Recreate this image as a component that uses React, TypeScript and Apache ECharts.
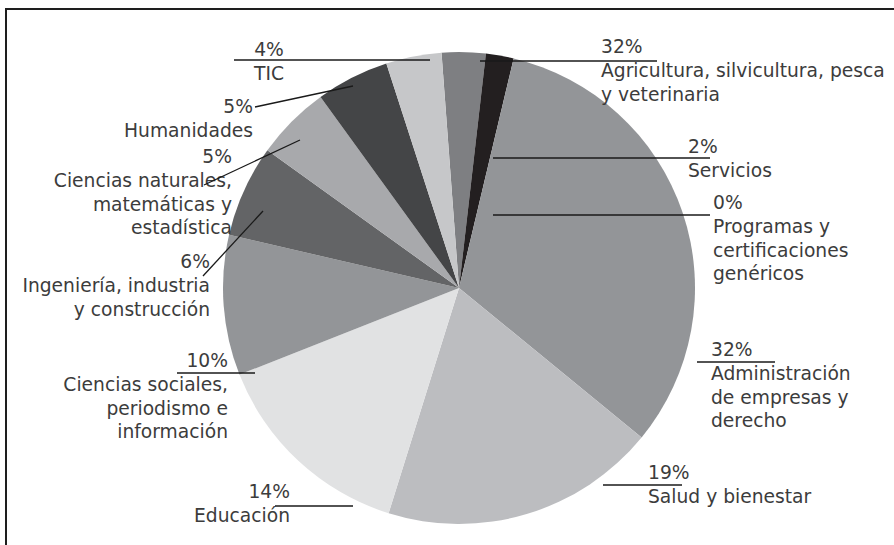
import React, { useEffect, useRef } from 'react';
import * as echarts from 'echarts';

// Slices in clockwise order, starting just left of 12 o'clock
const categories = [
  'Agricultura, silvicultura, pesca\ny veterinaria',
  'Servicios',
  'Programas y\ncertificaciones\ngenéricos',
  'Administración\nde empresas y\nderecho',
  'Salud y bienestar',
  'Educación',
  'Ciencias sociales,\nperiodismo e\ninformación',
  'Ingeniería, industria\ny construcción',
  'Ciencias naturales,\nmatemáticas y\nestadística',
  'Humanidades',
  'TIC',
];
const values = [3.0, 1.9, 0, 32.2, 18.9, 14.2, 9.6, 6.3, 5.1, 5.0, 3.8];
const percentLabels = ['32%', '2%', '0%', '32%', '19%', '14%', '10%', '6%', '5%', '5%', '4%'];

// styles
const sliceColors = [
  '#7e7f82', '#231f20', '#939598', '#939598', '#bcbdc0', '#e1e2e3',
  '#939598', '#636466', '#a8a9ac', '#444547', '#c6c7c9',
];

// label placement and leader lines (layout only)
type Place = { x: number; y: number; align: 'left' | 'right' | 'center'; a: number[]; b: number[] };
const labelPlaces: Place[] = [
  { x: 601, y: 35, align: 'left', a: [480, 61], b: [657, 61] },
  { x: 688, y: 135, align: 'left', a: [493, 158], b: [710, 158] },
  { x: 713, y: 191, align: 'left', a: [493, 215], b: [710, 215] },
  { x: 711, y: 338, align: 'left', a: [697, 362], b: [775, 362] },
  { x: 648, y: 461, align: 'left', a: [603, 485], b: [682, 485] },
  { x: 290, y: 480, align: 'right', a: [353, 506], b: [275, 506] },
  { x: 228, y: 349, align: 'right', a: [255, 373], b: [177, 373] },
  { x: 210, y: 250, align: 'right', a: [263, 211], b: [203, 276] },
  { x: 232, y: 145, align: 'right', a: [300, 140], b: [204, 185] },
  { x: 253, y: 95, align: 'right', a: [353, 86], b: [255, 107] },
  { x: 269, y: 38, align: 'center', a: [430, 60], b: [234, 60] },
];

export default function App() {
  const ref = useRef<HTMLDivElement>(null);
  useEffect(() => {
    if (!ref.current) return;
    const chart = echarts.init(ref.current, undefined, { renderer: 'svg' });
    const leaderLines = labelPlaces.map((pl) => ({
      type: 'line',
      z: 100,
      silent: true,
      shape: { x1: pl.a[0], y1: pl.a[1], x2: pl.b[0], y2: pl.b[1] },
      style: { stroke: '#1a1a1a', lineWidth: 1.3 },
    }));
    chart.setOption({
      animation: false,
      backgroundColor: '#ffffff',
      graphic: [
        {
          type: 'rect',
          z: 100,
          shape: { x: 6, y: 9, width: 920, height: 600 },
          style: { fill: 'none', stroke: '#1e1e1e', lineWidth: 2 },
          silent: true,
        },
        ...leaderLines,
      ],
      series: [
        {
          type: 'pie',
          center: [459, 288],
          radius: [0, 236],
          startAngle: 94.25,
          clockwise: true,
          avoidLabelOverlap: false,
          data: categories.map((name, i) => ({
            name,
            value: values[i],
            itemStyle: { color: sliceColors[i] },
          })),
          itemStyle: { borderWidth: 0 },
          label: {
            show: true,
            position: 'outside',
            fontFamily: 'DejaVu Sans',
            fontSize: 18.7,
            lineHeight: 23.7,
            color: '#3c3c3c',
            formatter: (p: any) => `${percentLabels[p.dataIndex]}\n${categories[p.dataIndex]}`,
          },
          labelLine: { show: false },
          labelLayout: (p: any) => {
            const pl = labelPlaces[p.dataIndex];
            return {
              x: pl.x,
              y: pl.y,
              align: pl.align,
              verticalAlign: 'top',
            };
          },
          emphasis: { disabled: true },
        },
      ],
    });
    return () => chart.dispose();
  }, []);
  return (
    <div
      ref={ref}
      style={{ position: 'absolute', left: 0, top: 0, width: 894, height: 545 }}
    />
  );
}
